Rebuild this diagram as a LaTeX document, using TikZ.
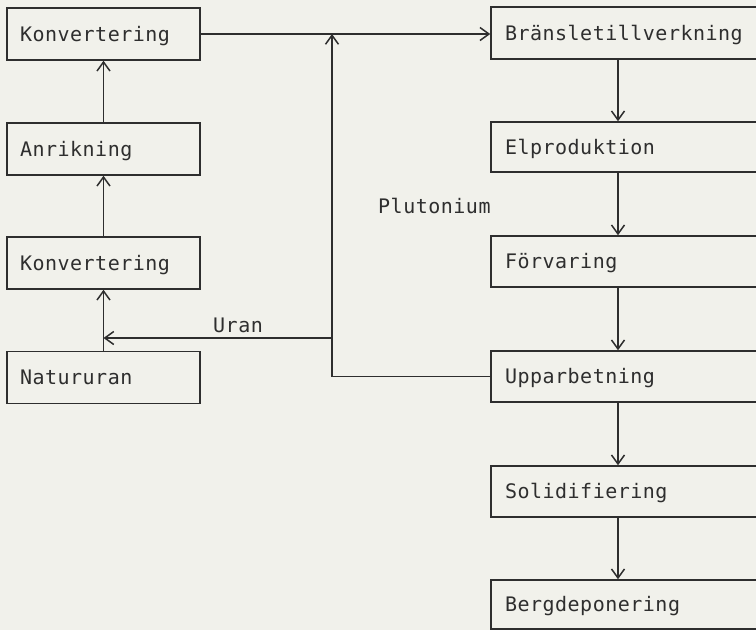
\documentclass[tikz,border=0pt]{standalone}
\usepackage{fontspec}
\setmonofont[LetterSpace=2.5]{DejaVu Sans Mono}
\usetikzlibrary{arrows.meta}
\definecolor{paper}{HTML}{F1F1EB}
\definecolor{ink}{HTML}{2E2E2E}
\tikzset{
  lbox/.style={draw=ink, line width=1.5pt, minimum width=193pt, minimum height=52pt,
    text width=167pt, inner xsep=13pt, inner ysep=0pt, align=left,
    text height=14.5pt, text depth=0pt, font=\ttfamily\fontsize{20}{22}\selectfont, text=ink},
  rbox/.style={lbox, minimum width=309pt, text width=281pt, inner xsep=14pt},
  lbl/.style={font=\ttfamily\fontsize{20}{22}\selectfont, text=ink, inner sep=0pt},
  arr/.style={draw=ink, line width=1.5pt, -{Straight Barb[length=9pt, width=13pt, line width=1.5pt]}},
  ln/.style={draw=ink, line width=1.5pt}
}
\begin{document}
\begin{tikzpicture}[x=1pt,y=-1pt]
\fill[paper] (0,0) rectangle (756,630);
\useasboundingbox (0,0) rectangle (756,630);
\clip (0,0) rectangle (756,630);
% left column
\node[lbox] (k1) at (103.5,34) {Konvertering};
\node[lbox] (an) at (103.5,149) {Anrikning};
\node[lbox] (k2) at (103.5,263) {Konvertering};
\node[lbox] (nat) at (103.5,377.5) {Natururan};
% right column
\node[rbox, minimum height=52pt] (b1) at (645.5,33) {Bränsletillverkning};
\node[rbox, minimum height=50pt] (el) at (645.5,147) {Elproduktion};
\node[rbox, minimum height=51pt] (fo) at (645.5,261.5) {Förvaring};
\node[rbox, minimum height=51pt] (up) at (645.5,376.5) {Upparbetning};
\node[rbox, minimum height=51pt] (so) at (645.5,491.5) {Solidifiering};
\node[rbox, minimum height=49pt] (be) at (645.5,604.5) {Bergdeponering};
% labels
\node[lbl, anchor=base west] (pu) at (378,213) {Plutonium};
\node[lbl, anchor=base west] (ur) at (213,332) {Uran};
% helper coordinates
\coordinate (ax) at (618,0);
\coordinate (pt) at (332,34);
\coordinate (ub) at (332,338);
% left arrows
\draw[arr] (nat.north) -- (k2.south);
\draw[arr] (k2.north) -- (an.south);
\draw[arr] (an.north) -- (k1.south);
% top connector
\draw[arr] (k1.east) -- (k1.east -| b1.west);
% right arrows
\draw[arr] (b1.south -| ax) -- (el.north -| ax);
\draw[arr] (el.south -| ax) -- (fo.north -| ax);
\draw[arr] (fo.south -| ax) -- (up.north -| ax);
\draw[arr] (up.south -| ax) -- (so.north -| ax);
\draw[arr] (so.south -| ax) -- (be.north -| ax);
% plutonium return
\draw[arr] (up.west) -| (pt);
% uran return
\draw[arr] (ub) -- (ub -| nat.north);
\end{tikzpicture}
\end{document}
